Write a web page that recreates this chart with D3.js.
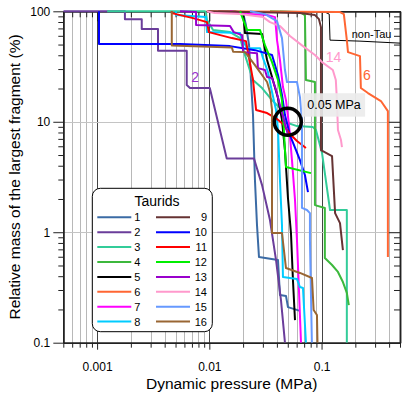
<!DOCTYPE html>
<html>
<head>
<meta charset="utf-8">
<script src="https://cdn.jsdelivr.net/npm/d3@7"></script>
<style>
body { margin: 0; background: #fff; }
svg { display: block; font-family: "Liberation Sans", Arial, sans-serif; }
</style>
</head>
<body>
<div id="chart"></div>
<script>
// values: [dynamic pressure (MPa), relative mass (%)]
var names = ["1", "2", "3", "4", "5", "6", "7", "8", "9", "10", "11", "12", "13", "14", "15", "16"];
var colors = ["#3b6ba5", "#6a3d9a", "#33cc99", "#3cb83c", "#000000", "#ff6633", "#ff00ff", "#00ccff",
              "#663333", "#0000ff", "#ff0000", "#00ee00", "#9900cc", "#ff99cc", "#6699ff", "#996633"];

var s1 = [[0.012,100],[0.0169,100],[0.020,96.3],[0.0212,75],[0.0226,49.4],[0.0235,23.9],[0.0245,11.5],[0.0255,2.97],[0.0266,1.16],[0.0277,0.597],[0.0409,0.56],[0.0426,0.27],[0.0482,0.265],[0.0502,0.21],[0.0642,0.194]];
var s2 = [[0.0005,100],[0.00177,100],[0.00177,84.9],[0.0025,84.9],[0.0025,69],[0.00349,69],[0.00349,43.9],[0.00629,43.9],[0.00629,21.5],[0.00673,20.2],[0.0101,20.2],[0.0143,4.65],[0.025,4.65],[0.0295,2.67],[0.0347,1.29],[0.0393,0.56],[0.0435,0.243],[0.0472,0.1]];
var s3 = [[0.00123,100],[0.00916,100],[0.00935,96.3],[0.00954,83.2],[0.0108,67.6],[0.0153,64.8],[0.0188,57.2],[0.0204,42.7],[0.0245,23.9],[0.0295,20.2],[0.0362,15.7],[0.0426,13.3],[0.0472,9.94],[0.0604,9.14],[0.0838,8.95],[0.0891,8.41],[0.101,5.21],[0.119,1.59],[0.168,1.59],[0.168,0.1]];
var s4 = [[0.0347,100],[0.0642,98.4],[0.0711,92.4],[0.0726,23.9],[0.0873,22.9],[0.0873,1.76],[0.107,1.66],[0.107,0.584],[0.124,0.505],[0.140,0.437],[0.155,0.354],[0.168,0.282],[0.175,0.219]];
var s5 = [[0.0188,100],[0.020,96.3],[0.0208,63.5],[0.0295,62.2],[0.0327,36.2],[0.0362,25.4],[0.0409,16.4],[0.0444,10.4],[0.0472,5.54],[0.0502,2.04],[0.0534,0.984],[0.0556,0.369],[0.058,0.16]];
var s6 = [[0.0095,100],[0.146,98.4],[0.158,94.3],[0.168,54.8],[0.172,42.7],[0.22,39.3],[0.224,20.2],[0.259,18.2],[0.338,15.4],[0.39,12.5],[0.39,0.597]];
var s7 = [[0.0153,100],[0.0217,94.3],[0.0327,92.4],[0.0385,88.6],[0.0401,54.8],[0.0426,36.2],[0.0453,20.6],[0.0482,15.7],[0.0513,9.33],[0.0545,4.5],[0.058,1.96],[0.0604,0.849],[0.0629,0.3],[0.0656,0.1]];
var s8 = [[0.00505,100],[0.00505,92.4],[0.00935,88.6],[0.00954,64.8],[0.0188,63.5],[0.0193,57.2],[0.0217,46.4],[0.0283,46.4],[0.0301,37.7],[0.0333,28.2],[0.0362,18.6],[0.0393,12.8],[0.0409,8.41],[0.0426,2.97],[0.0444,1.16],[0.0453,0.393],[0.0604,0.377],[0.0642,0.319],[0.0683,0.313],[0.0726,0.1]];
var s9 = [[0.0095,100],[0.0642,96.3],[0.0873,92.4],[0.0948,84.9],[0.0988,71.9],[0.0988,5.54],[0.124,4.89],[0.132,1.49],[0.146,1.21],[0.155,0.69]];
var s10 = [[0.00104,100],[0.00104,50.5],[0.00548,50.5],[0.0153,48.4],[0.0255,44.5],[0.0295,42.7],[0.0362,40.2],[0.0409,26.5],[0.0444,17.5],[0.0472,11.5],[0.0523,7.58],[0.0592,5.54],[0.0642,4.5],[0.0711,3.3],[0.0757,2.31]];
var s11 = [[0.00463,100],[0.00463,96.3],[0.00716,86.7],[0.00954,79.8],[0.0099,64.8],[0.0125,60.9],[0.0159,57.2],[0.0212,53.7],[0.0226,37.7],[0.0245,23.9],[0.0261,12.8],[0.0327,12.0],[0.0401,10.6],[0.0453,9.53],[0.0523,7.74],[0.0604,6.69],[0.0726,5.78]];
var s12 = [[0.0188,100],[0.0217,67.6],[0.0283,67.6],[0.0313,49.4],[0.0362,34.7],[0.0409,23.9],[0.0444,15.7],[0.0462,8.41],[0.0472,5.54],[0.0482,3.89],[0.0805,3.43]];
var s13 = [[0.00548,100],[0.00762,98.4],[0.00762,75],[0.0153,73.5],[0.0165,64.8],[0.0196,60.9],[0.020,42.7],[0.0266,41.8],[0.0271,30.6],[0.0313,29.4],[0.0327,25.4],[0.0362,24.9],[0.0393,19.4],[0.0426,14.2],[0.0462,10.4],[0.0502,7.58]];
var s14 = [[0.0095,100],[0.0112,96.3],[0.0188,94.3],[0.0301,88.6],[0.0347,79.8],[0.0426,73.5],[0.0523,59.7],[0.0683,48.4],[0.0873,40.2],[0.101,34.7],[0.126,29.4],[0.134,23.9],[0.137,15.7],[0.140,8.41],[0.149,6.83],[0.152,5.9]];
var s15 = [[0.023,100],[0.0313,94.3],[0.0401,81.5],[0.0444,57.2],[0.0472,29.4],[0.0492,22.9],[0.0604,22.9],[0.0642,16.7],[0.0669,10.4],[0.0669,1.66],[0.0741,1.59],[0.0788,1.49],[0.0788,0.849],[0.082,0.1]];
var s16 = [[0.00463,100],[0.00463,48.9],[0.0159,46.9],[0.0163,43.1],[0.0208,42.7],[0.0255,32.6],[0.0327,22.9],[0.0347,18.6],[0.0362,12.8],[0.0362,0.984],[0.0444,0.984],[0.0482,0.474],[0.0642,0.428],[0.0822,0.385],[0.085,0.198],[0.091,0.178],[0.092,0.1]];
var nonTau = [[0.0426,100],[0.107,98.4],[0.117,94.3],[0.119,54.8],[0.22,53.7],[0.5,51.5]];
var series = [s1, s2, s3, s4, s5, s6, s7, s8, s9, s10, s11, s12, s13, s14, s15, s16];

var xDomain = [0.0005, 0.5];
var yDomain = [0.1, 100];
var xMajor = [0.001, 0.01, 0.1];
var xTickLabels = ["0.001", "0.01", "0.1"];
var yMajor = [0.1, 1, 10, 100];
var yTickLabels = ["0.1", "1", "10", "100"];

// curve labels: text, pressure, mass, colour index
var curveLabels = [["2", 0.00746, 25.5, 1], ["14", 0.128, 38.3, 13], ["6", 0.253, 26.5, 5]];
var marker = [0.05, 10];
var markerText = "0.05 MPa";
var markerTextPos = [0.0746, 14.2];
var nonTauPos = [0.279, 62.2];

var plotLeft = 63.3, plotRight = 400, plotTop = 11.3, plotBottom = 342.7;
var font = "Liberation Sans, Arial, sans-serif";

var svg = d3.select("#chart").append("svg")
    .attr("width", 409)
    .attr("height", 398);

var x = d3.scaleLog().domain(xDomain).range([plotLeft, plotRight]);
var y = d3.scaleLog().domain(yDomain).range([plotBottom, plotTop]);

function isMajor(d) {
    var l = Math.log10(d);
    return Math.abs(l - Math.round(l)) < 1e-9;
}
var xAll = x.ticks();
var xMinor = xAll.filter(function (d) { return !isMajor(d); });
var yMinor = y.ticks().filter(function (d) { return !isMajor(d); });

// grid
svg.append("g").selectAll("line")
    .data(xAll.filter(function (d) { return x(d) > plotLeft + 1 && x(d) < plotRight - 1; }))
    .join("line")
    .attr("x1", function (d) { return Math.round(x(d)) + 0.5; })
    .attr("x2", function (d) { return Math.round(x(d)) + 0.5; })
    .attr("y1", plotTop)
    .attr("y2", plotBottom)
    .attr("stroke", function (d) { return isMajor(d) ? "#444" : "#b8b8b8"; })
    .attr("stroke-width", 1);
svg.append("g").selectAll("line")
    .data([1, 10])
    .join("line")
    .attr("x1", plotLeft)
    .attr("x2", plotRight)
    .attr("y1", function (d) { return Math.round(y(d)) + 0.5; })
    .attr("y2", function (d) { return Math.round(y(d)) + 0.5; })
    .attr("stroke", "#c4c4c4")
    .attr("stroke-width", 1);

// axes
function addAxis(axis, tx, ty) {
    var g = svg.append("g")
        .attr("transform", "translate(" + tx + "," + ty + ")")
        .call(axis);
    g.attr("font-family", font).attr("font-size", 12);
    g.selectAll("path, line").attr("stroke", "#222");
    g.select(".domain").attr("stroke-width", 1.5);
    g.selectAll("text").attr("fill", "#000");
    return g;
}
function labelOf(list, labels) {
    return function (d) { return labels[list.indexOf(d)]; };
}
addAxis(d3.axisBottom(x).tickValues(xMinor).tickSize(5).tickSizeOuter(0).tickFormat(""), 0, plotBottom);
addAxis(d3.axisBottom(x).tickValues(xMajor).tickSize(7).tickSizeOuter(0).tickPadding(13)
    .tickFormat(labelOf(xMajor, xTickLabels)), 0, plotBottom);
addAxis(d3.axisLeft(y).tickValues(yMinor).tickSize(5).tickSizeOuter(0).tickFormat(""), plotLeft, 0);
addAxis(d3.axisLeft(y).tickValues(yMajor).tickSize(10).tickSizeOuter(0).tickPadding(3)
    .tickFormat(labelOf(yMajor, yTickLabels)), plotLeft, 0);
addAxis(d3.axisTop(x).tickValues(xMinor).tickSize(-6).tickSizeOuter(0).tickFormat(""), 0, plotTop);
addAxis(d3.axisTop(x).tickValues(xMajor).tickSize(-10).tickSizeOuter(0).tickFormat(""), 0, plotTop);
addAxis(d3.axisRight(y).tickValues(yMinor).tickSize(-6).tickSizeOuter(0).tickFormat(""), plotRight, 0);
addAxis(d3.axisRight(y).tickValues(yMajor).tickSize(-12).tickSizeOuter(0).tickFormat(""), plotRight, 0);

// axis titles
svg.append("text")
    .attr("x", (plotLeft + plotRight) / 2)
    .attr("y", 389)
    .attr("text-anchor", "middle")
    .attr("font-size", 15.5)
    .text("Dynamic pressure (MPa)");
svg.append("text")
    .attr("transform", "translate(20," + ((plotTop + plotBottom) / 2) + ") rotate(-90)")
    .attr("text-anchor", "middle")
    .attr("font-size", 15.5)
    .text("Relative mass of the largest fragment (%)");

// curves
svg.append("clipPath").attr("id", "plot-clip")
    .append("rect")
    .attr("x", plotLeft).attr("y", plotTop - 2)
    .attr("width", plotRight - plotLeft).attr("height", plotBottom - plotTop + 2);

var line = d3.line()
    .x(function (d) { return x(d[0]); })
    .y(function (d) { return y(d[1]); });

var plot = svg.append("g").attr("clip-path", "url(#plot-clip)");
plot.append("path")
    .datum(nonTau)
    .attr("d", line)
    .attr("fill", "none")
    .attr("stroke", "#000")
    .attr("stroke-width", 1);
plot.selectAll(".curve")
    .data(series)
    .join("path")
    .attr("class", "curve")
    .attr("d", line)
    .attr("fill", "none")
    .attr("stroke", function (d, i) { return colors[i]; })
    .attr("stroke-width", 2)
    .attr("stroke-linejoin", "round");

// annotations
svg.selectAll(".clabel")
    .data(curveLabels)
    .join("text")
    .attr("class", "clabel")
    .attr("x", function (d) { return x(d[1]); })
    .attr("y", function (d) { return y(d[2]); })
    .attr("dy", "0.36em")
    .attr("text-anchor", "middle")
    .attr("font-size", 14)
    .attr("fill", function (d) { return d[0] == "2" ? "#9933cc" : colors[d[3]]; })
    .text(function (d) { return d[0]; });

svg.append("text")
    .attr("x", x(nonTauPos[0]))
    .attr("y", y(nonTauPos[1]))
    .attr("dy", "0.36em")
    .attr("text-anchor", "middle")
    .attr("font-size", 11)
    .text("non-Tau");

svg.append("circle")
    .attr("cx", x(marker[0]))
    .attr("cy", y(marker[1]))
    .attr("r", 13.5)
    .attr("fill", "none")
    .attr("stroke", "#000")
    .attr("stroke-width", 3.5);

var mx = x(markerTextPos[0]), my = y(markerTextPos[1]);
svg.append("rect")
    .attr("x", mx - 5.5).attr("y", my - 11.7)
    .attr("width", 63.3).attr("height", 23.4)
    .attr("fill", "#ebebeb")
    .attr("opacity", 0.9);
svg.append("text")
    .attr("x", mx)
    .attr("y", my)
    .attr("dy", "0.36em")
    .attr("font-size", 12.5)
    .text(markerText);

// legend
var legend = svg.append("g");
legend.append("rect")
    .attr("x", 92.3).attr("y", 188.3)
    .attr("width", 120).attr("height", 143.4)
    .attr("rx", 8)
    .attr("fill", "#fff")
    .attr("stroke", "#000")
    .attr("stroke-width", 1);
legend.append("text")
    .attr("x", 157).attr("y", 201)
    .attr("dy", "0.36em")
    .attr("text-anchor", "middle")
    .attr("font-size", 14)
    .text("Taurids");
var rows = legend.selectAll(".row")
    .data(names)
    .join("g")
    .attr("class", "row")
    .attr("transform", function (d, i) {
        return "translate(" + (i < 8 ? 97.3 : 156) + "," + (217.3 + (i % 8) * 14.9) + ")";
    });
rows.append("line")
    .attr("x1", 0).attr("x2", 34)
    .attr("stroke", function (d, i) { return colors[i]; })
    .attr("stroke-width", 2);
rows.append("text")
    .attr("x", function (d, i) { return i < 8 ? 37 : 51; })
    .attr("dy", "0.36em")
    .attr("text-anchor", function (d, i) { return i < 8 ? "start" : "end"; })
    .attr("font-size", 11)
    .text(function (d) { return d; });
</script>
</body>
</html>
